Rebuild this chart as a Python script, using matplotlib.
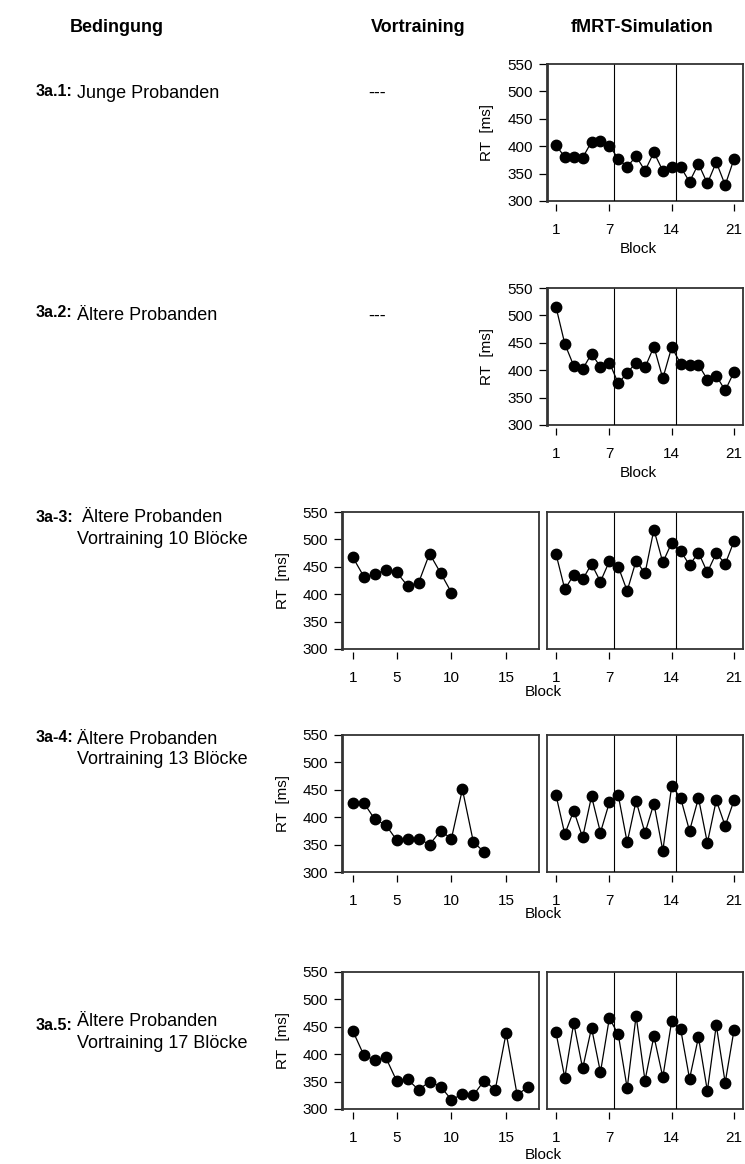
import matplotlib
matplotlib.use("Agg")
import matplotlib.pyplot as plt
import numpy as np

plt.rcParams['font.family'] = ['Liberation Sans', 'DejaVu Sans']

# Reaktionszeiten (ms) je Block
sim_blocks = list(range(1, 22))
rt_sim_young = [402, 380, 381, 379, 408, 410, 401, 377, 362, 382, 355,
                389, 355, 362, 362, 335, 368, 332, 371, 329, 377]
rt_sim_old = [516, 448, 408, 402, 430, 406, 414, 376, 395, 414, 405,
              443, 385, 442, 412, 409, 410, 383, 390, 363, 397]
rt_pre10 = [467, 432, 436, 445, 440, 415, 421, 474, 439, 403]
rt_sim_pre10 = [474, 409, 435, 427, 455, 423, 460, 450, 406, 461, 438,
                518, 458, 494, 479, 453, 476, 440, 475, 455, 497]
rt_pre13 = [426, 426, 396, 386, 358, 360, 361, 350, 375, 361, 451, 355, 336]
rt_sim_pre13 = [441, 369, 412, 363, 438, 372, 427, 440, 354, 430, 371,
                425, 339, 457, 435, 375, 435, 353, 431, 384, 431]
rt_pre17 = [442, 398, 389, 394, 351, 354, 335, 350, 341, 317, 327, 325,
            352, 335, 439, 326, 340]
rt_sim_pre17 = [440, 357, 457, 374, 448, 367, 466, 436, 338, 470, 352,
                433, 358, 461, 446, 355, 431, 333, 453, 348, 445]

headers = ["Bedingung", "Vortraining", "fMRT-Simulation"]
cond_ids = ["3a.1:", "3a.2:", "3a-3:", "3a-4:", "3a.5:"]
cond_names = ["Junge Probanden", "Ältere Probanden", " Ältere Probanden",
              "Ältere Probanden", "Ältere Probanden"]
pre_names = ["---", "---", "Vortraining 10 Blöcke", "Vortraining 13 Blöcke",
             "Vortraining 17 Blöcke"]
y_ticks = [300, 350, 400, 450, 500, 550]
sim_ticks = [1, 7, 14, 21]
pre_ticks = [1, 5, 10, 15]
ylabel = "RT  [ms]"

W, H = 745, 1164
fig = plt.figure(figsize=(W / 100, H / 100), dpi=100)
BOX = "#333333"
TICK_FS = 11


def add_panel(x0, y0, x1, y1):
    ax = fig.add_axes([x0 / W, 1 - y1 / H, (x1 - x0) / W, (y1 - y0) / H])
    ax.set_ylim(300, 550)
    for s in ax.spines.values():
        s.set_color(BOX)
        s.set_linewidth(1.3)
    # bottom ticks sit a little below the box, like R's axis()
    ax.spines['bottom'].set_position(('outward', 2.5))
    ax.spines['bottom'].set_color('none')
    ax.plot([0, 1], [0, 0], transform=ax.transAxes, color=BOX, lw=1.3,
            clip_on=False, solid_capstyle='projecting')
    ax.tick_params(axis='x', direction='out', length=5, width=0.9,
                   pad=8, labelsize=TICK_FS, color='black')
    ax.tick_params(axis='y', direction='out', length=6, width=0.9,
                   pad=4, labelsize=TICK_FS, color='black')
    return ax


def draw_sim(ax, values, show_y):
    ax.set_xlim(0, 22)
    ax.axvline(7.5, color='black', lw=0.8)
    ax.axvline(14.5, color='black', lw=0.8)
    ax.plot(sim_blocks, values, '-o', color='black', lw=0.9, ms=7.5)
    ax.set_xticks(sim_ticks)
    ax.set_xticklabels([str(t) for t in sim_ticks])
    if show_y:
        ax.set_yticks(y_ticks)
        ax.spines['left'].set_linewidth(2)
    else:
        ax.set_yticks([])


def draw_pre(ax, values):
    ax.set_xlim(0, 18)
    ax.plot(range(1, len(values) + 1), values, '-o', color='black',
            lw=0.9, ms=7.5)
    ax.set_xticks(pre_ticks)
    ax.set_xticklabels([str(t) for t in pre_ticks])
    ax.set_yticks(y_ticks)
    ax.spines['left'].set_linewidth(2)


# column headers
for txt, xc in zip(headers, [117, 418, 642]):
    fig.text(xc / W, 1 - 27 / H, txt, ha='center', va='center',
             fontsize=13, fontweight='bold')

# rows 1-2: no pretraining, simulation only
sim_rows = [(64, 201, rt_sim_young), (288, 425, rt_sim_old)]
for top, bot, vals in sim_rows:
    ax = add_panel(547, top, 743, bot)
    draw_sim(ax, vals, True)
    fig.text(487 / W, 1 - (top + bot) / 2 / H, ylabel, rotation=90,
             ha='center', va='center', fontsize=TICK_FS)
    fig.text(638 / W, 1 - (bot + 48) / H, "Block", ha='center',
             va='center', fontsize=TICK_FS)

# rows 3-5: pretraining + simulation
pre_rows = [(512, 649, rt_pre10, rt_sim_pre10, 692),
            (735, 872, rt_pre13, rt_sim_pre13, 914),
            (972, 1109, rt_pre17, rt_sim_pre17, 1155)]
for top, bot, pre_vals, sim_vals, block_y in pre_rows:
    ax_pre = add_panel(342, top, 539, bot)
    draw_pre(ax_pre, pre_vals)
    ax_sim = add_panel(547, top, 743, bot)
    draw_sim(ax_sim, sim_vals, False)
    fig.text(283 / W, 1 - (top + bot) / 2 / H, ylabel, rotation=90,
             ha='center', va='center', fontsize=TICK_FS)
    fig.text(543 / W, 1 - block_y / H, "Block", ha='center',
             va='center', fontsize=TICK_FS)

# condition descriptions
cond_y = [(91, 93), (313, 316), (517, 518), (737, 739), (1026, 1022)]
for cid, name, pre, (yid, yname) in zip(cond_ids, cond_names, pre_names,
                                        cond_y):
    fig.text(36 / W, 1 - yid / H, cid, ha='left', va='center',
             fontsize=11.5, fontweight='bold')
    fig.text(77 / W, 1 - yname / H, name, ha='left', va='center',
             fontsize=13)
    if pre == "---":
        fig.text(368 / W, 1 - yname / H, pre, ha='left', va='center',
                 fontsize=13)
    else:
        fig.text(77 / W, 1 - (yname + 21) / H, pre, ha='left',
                 va='center', fontsize=13)

fig.savefig("out.png", dpi=100)
